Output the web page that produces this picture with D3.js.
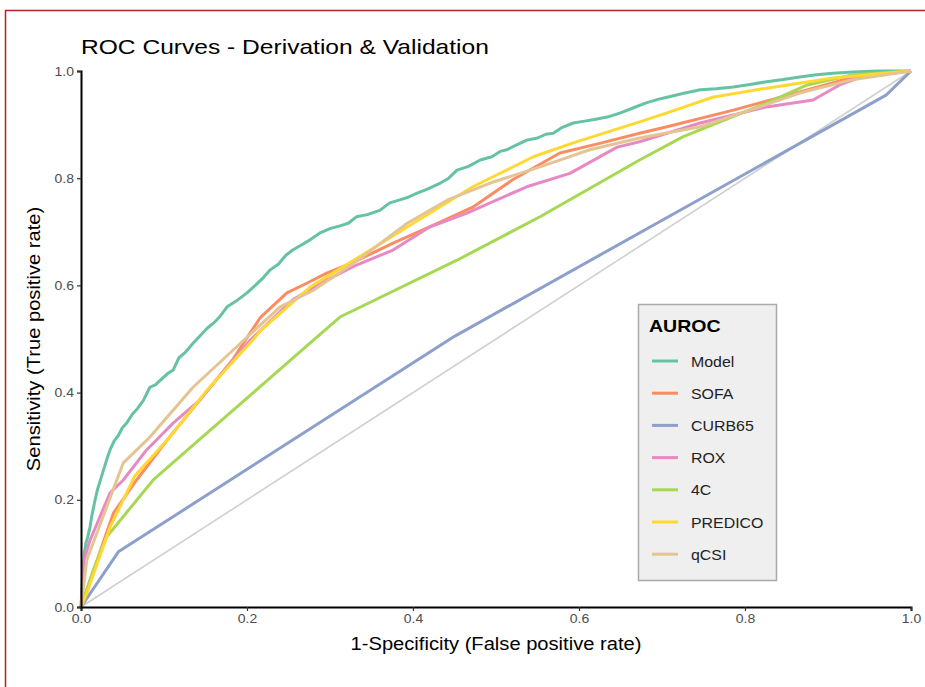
<!DOCTYPE html>
<html><head><meta charset="utf-8">
<script src="https://cdn.jsdelivr.net/npm/d3@7"></script>
<style>body{margin:0;background:#fff}svg{display:block}text{font-family:"Liberation Sans",Arial,sans-serif}</style>
</head><body>
<svg id="c" width="925" height="687"></svg>
<script>
const seriesNames = ["Model","SOFA","CURB65","ROX","4C","PREDICO","qCSI"];
const seriesColors = ["#66c2a5","#fc8d62","#8da0cb","#e78ac3","#a6d854","#ffd92f","#e5c494"];
const xTicks = [0,0.2,0.4,0.6,0.8,1.0];
const yTicks = [0,0.2,0.4,0.6,0.8,1.0];

const modelFPR = [0,0.002,0.004,0.006,0.008,0.011,0.013,0.017,0.02,0.024,0.028,0.031,0.035,0.04,0.045,0.05,0.055,0.062,0.068,0.075,0.083,0.09,0.097,0.104,0.111,0.118,0.125,0.135,0.143,0.152,0.16,0.168,0.176,0.188,0.2,0.21,0.22,0.228,0.238,0.246,0.255,0.265,0.276,0.288,0.3,0.312,0.322,0.332,0.345,0.36,0.372,0.385,0.395,0.405,0.418,0.433,0.443,0.453,0.467,0.481,0.495,0.505,0.513,0.525,0.537,0.55,0.56,0.569,0.58,0.593,0.605,0.62,0.634,0.65,0.665,0.68,0.695,0.706,0.725,0.746,0.765,0.786,0.806,0.826,0.846,0.866,0.886,0.906,0.93,0.96,1.0];
const modelTPR = [0,0.06,0.1,0.12,0.13,0.15,0.17,0.2,0.22,0.24,0.26,0.275,0.293,0.31,0.32,0.335,0.343,0.36,0.37,0.385,0.41,0.415,0.425,0.435,0.442,0.465,0.474,0.492,0.505,0.52,0.53,0.543,0.56,0.572,0.586,0.6,0.615,0.629,0.64,0.655,0.666,0.675,0.685,0.698,0.706,0.711,0.716,0.728,0.732,0.74,0.754,0.76,0.765,0.772,0.78,0.791,0.8,0.815,0.822,0.834,0.84,0.85,0.853,0.862,0.871,0.875,0.882,0.884,0.895,0.903,0.906,0.91,0.914,0.922,0.931,0.94,0.947,0.951,0.958,0.965,0.967,0.97,0.975,0.98,0.984,0.989,0.993,0.996,0.998,1.0,1.0];

const sofaFPR = [0,0.014,0.039,0.067,0.104,0.143,0.183,0.216,0.248,0.272,0.296,0.328,0.376,0.42,0.472,0.52,0.577,0.625,0.673,0.706,0.786,0.866,0.927,1.0];
const sofaTPR = [0,0.063,0.175,0.237,0.312,0.386,0.462,0.54,0.586,0.604,0.623,0.643,0.679,0.709,0.746,0.797,0.847,0.865,0.884,0.896,0.927,0.961,0.987,1.0];

const curbFPR = [0,0.045,0.45,0.97,1.0];
const curbTPR = [0,0.103,0.505,0.955,1.0];

const roxFPR = [0,0.004,0.011,0.035,0.051,0.079,0.111,0.143,0.176,0.204,0.255,0.296,0.332,0.376,0.42,0.465,0.537,0.589,0.646,0.673,0.746,0.826,0.882,0.914,0.947,1.0];
const roxTPR = [0,0.09,0.125,0.213,0.237,0.293,0.343,0.386,0.448,0.498,0.573,0.61,0.638,0.666,0.709,0.735,0.784,0.809,0.858,0.868,0.903,0.933,0.946,0.974,0.993,1.0];

const c4FPR = [0,0.015,0.031,0.087,0.28,0.312,0.453,0.553,0.673,0.725,0.766,0.826,0.875,0.93,1.0];
const c4TPR = [0,0.07,0.131,0.237,0.498,0.541,0.647,0.728,0.834,0.877,0.903,0.94,0.974,0.993,1.0];

const predFPR = [0,0.007,0.035,0.065,0.107,0.152,0.207,0.216,0.276,0.332,0.393,0.472,0.545,0.593,0.673,0.706,0.761,0.826,0.906,1.0];
const predTPR = [0,0.026,0.149,0.245,0.317,0.405,0.498,0.515,0.597,0.65,0.709,0.784,0.84,0.866,0.905,0.922,0.951,0.968,0.987,1.0];

const qcsiFPR = [0,0.007,0.051,0.083,0.135,0.183,0.24,0.28,0.332,0.393,0.441,0.493,0.553,0.613,0.673,0.746,0.806,0.866,0.927,1.0];
const qcsiTPR = [0,0.088,0.269,0.317,0.41,0.479,0.56,0.591,0.645,0.716,0.759,0.791,0.821,0.853,0.875,0.896,0.927,0.959,0.983,1.0];

const seriesFPR = [modelFPR,sofaFPR,curbFPR,roxFPR,c4FPR,predFPR,qcsiFPR];
const seriesTPR = [modelTPR,sofaTPR,curbTPR,roxTPR,c4TPR,predTPR,qcsiTPR];

const svg = d3.select("#c");
function stretch(sel,k){ sel.each(function(){ const w=this.getComputedTextLength(); d3.select(this).attr("textLength",w*k).attr("lengthAdjust","spacingAndGlyphs"); }); }

svg.append("line").attr("x1",5.5).attr("x2",5.5).attr("y1",10).attr("y2",687).attr("stroke","#b22222").attr("stroke-width",1.5);
svg.append("line").attr("x1",5).attr("x2",925).attr("y1",10.5).attr("y2",10.5).attr("stroke","#b22222").attr("stroke-width",1.5);

const L=81,R=911,T=71,B=607;
const x = d3.scaleLinear().domain([0,1]).range([L,R]);
const y = d3.scaleLinear().domain([0,1]).range([B,T]);

const g = svg.append("g");
g.append("line").attr("x1",x(0)).attr("y1",y(0)).attr("x2",x(1)).attr("y2",y(1)).attr("stroke","#d0d0d0").attr("stroke-width",1.6);

const line = d3.line().x(d=>x(d[0])).y(d=>y(d[1]));
seriesNames.forEach((n,i)=>{
  const pts = seriesFPR[i].map((v,j)=>[v,seriesTPR[i][j]]);
  g.append("path").datum(pts).attr("d",line).attr("fill","none")
   .attr("stroke",seriesColors[i]).attr("stroke-width",3).attr("stroke-linejoin","round");
});

const xa = svg.append("g").attr("transform",`translate(0,${B})`)
  .call(d3.axisBottom(x).tickValues(xTicks).tickFormat(d3.format(".1f")).tickSize(4).tickPadding(3));
const ya = svg.append("g").attr("transform",`translate(${L},0)`)
  .call(d3.axisLeft(y).tickValues(yTicks).tickFormat(d3.format(".1f")).tickSize(4).tickPadding(3));
[xa,ya].forEach(a=>{
  a.select(".domain").attr("stroke","#000").attr("stroke-width",2);
  a.selectAll(".tick line").attr("stroke","#333").attr("stroke-width",1.2);
  a.selectAll(".tick text").attr("fill","#4d4d4d").style("font-size","12.5px").style("font-family","'Liberation Sans',Arial,sans-serif");
  stretch(a.selectAll(".tick text"),1.12);
});

stretch(svg.append("text").attr("x",81).attr("y",54).text("ROC Curves - Derivation & Validation")
  .style("font-size","21px").attr("fill","#000"),1.17);
stretch(svg.append("text").attr("x",(L+R)/2).attr("y",650).attr("text-anchor","middle")
  .text("1-Specificity (False positive rate)").style("font-size","17.5px").attr("fill","#000"),1.15);
stretch(svg.append("text").attr("transform",`translate(40,${(T+B)/2}) rotate(-90)`).attr("text-anchor","middle")
  .text("Sensitivity (True positive rate)").style("font-size","17.5px").attr("fill","#000"),1.15);

const lg = svg.append("g");
lg.append("rect").attr("x",638.5).attr("y",304.5).attr("width",138).attr("height",276)
  .attr("fill","#efefef").attr("stroke","#aaaaaa").attr("stroke-width",1.5);
stretch(lg.append("text").attr("x",649).attr("y",332).text("AUROC").style("font-size","17px").style("font-weight","bold"),1.15);
seriesNames.forEach((n,i)=>{
  const yy = 361 + i*32.2;
  lg.append("line").attr("x1",652).attr("x2",678).attr("y1",yy).attr("y2",yy)
    .attr("stroke",seriesColors[i]).attr("stroke-width",3);
  stretch(lg.append("text").attr("x",691).attr("y",yy+5.5).text(n).style("font-size","15px").attr("fill","#222"),1.06);
});
</script>
</body></html>
